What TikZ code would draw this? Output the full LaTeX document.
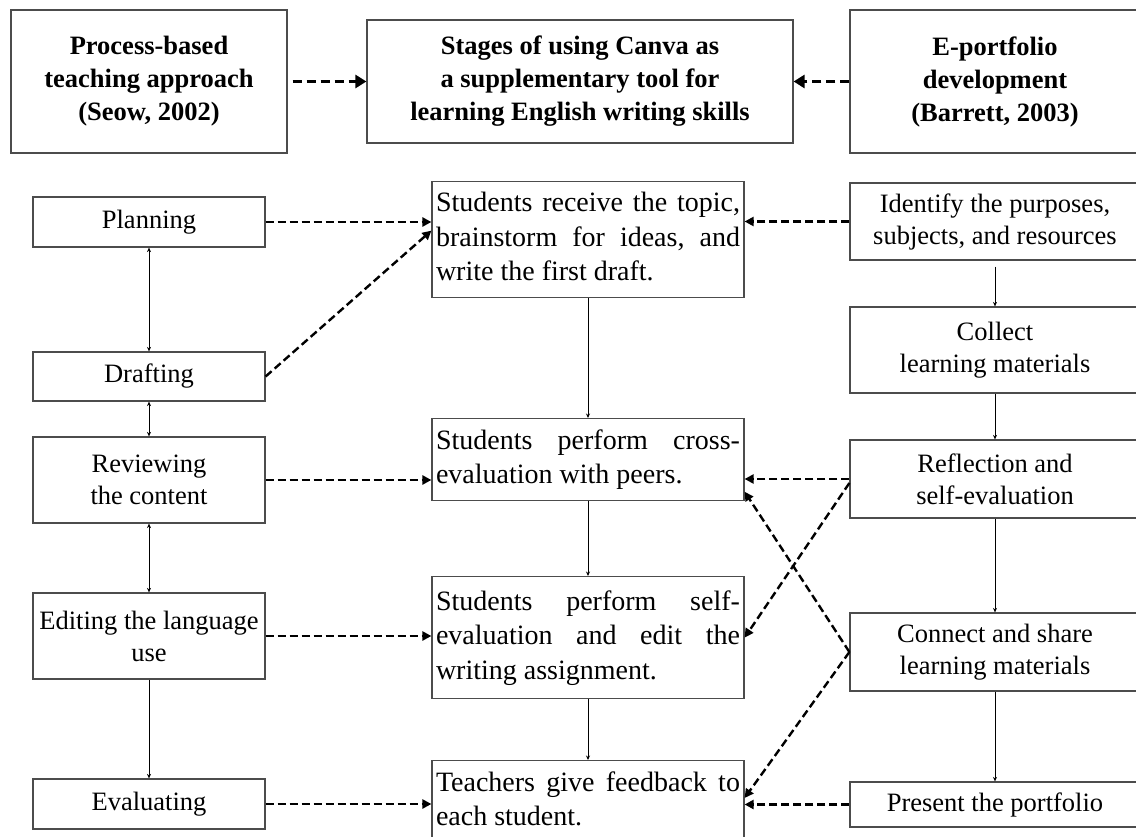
\documentclass[tikz,border=0pt]{standalone}
\usepackage{fontspec}
\setmainfont{Liberation Serif}
\usetikzlibrary{arrows.meta}

\begin{document}
\begin{tikzpicture}[x=1pt,y=-1pt,
	box/.style={draw=black!70, line width=1.2pt, inner sep=4pt, align=center, font=\fontsize{26.5}{32}\selectfont},
	head/.style={box, font=\bfseries\fontsize{26.5}{33}\selectfont},
	side/.style={box, minimum width=232pt},
	port/.style={box, minimum width=290pt},
	stage/.style={box, anchor=north, text width=304pt, align=none, inner xsep=4pt, inner ysep=6.25pt, font=\fontsize{28}{34.5}\selectfont},
	flow/.style={-{Stealth[length=4.5pt,width=4pt]}, line width=1pt},
	both/.style={{Stealth[length=4.5pt,width=4pt]}-{Stealth[length=4.5pt,width=4pt]}, line width=1pt},
	link/.style={-{Triangle[length=9pt,width=9pt]}, line width=2.4pt, dash pattern=on 8pt off 4pt},
	bigLink/.style={-{Triangle[length=11pt,width=13pt]}, line width=3.8pt, dash pattern=on 9pt off 5pt}]
	\useasboundingbox (0,0) rectangle (1136,837);

	\node[head, minimum width=276pt, minimum height=143pt] (pbt) at (149,81.5) {Process-based\\teaching approach\\(Seow, 2002)};
	\node[head, minimum width=426pt, minimum height=123pt] (stages) at (580,81.5) {Stages of using Canva as\\a supplementary tool for\\learning English writing skills};
	\node[head, minimum width=290pt, minimum height=143pt] (eport) at (995,81.5) {E-portfolio\\development\\(Barrett, 2003)};

	\node[side, minimum height=50pt] (planning) at (149,222) {Planning};
	\node[side, minimum height=49pt] (drafting) at (149,376.5) {Drafting};
	\node[side, minimum height=86pt] (reviewing) at (149,480) {Reviewing\\the content};
	\node[side, minimum height=86pt] (editing) at (149,636) {Editing the language\\use};
	\node[side, minimum height=50pt] (evaluating) at (149,804) {Evaluating};

	\node[stage] (c1) at (588,181) {\strut Students \hfill receive \hfill the \hfill topic,\\brainstorm \hfill for \hfill ideas, \hfill and\\write the first draft.\strut};
	\node[stage] (c2) at (588,418) {\strut Students \hfill perform \hfill cross-\\evaluation with peers.\strut};
	\node[stage, minimum height=122pt] (c3) at (588,576) {\strut Students \hfill perform \hfill self-\\evaluation \hfill and \hfill edit \hfill the\\writing assignment.\strut};
	\node[stage] (c4) at (588,760) {\strut Teachers \hfill give \hfill feedback \hfill to\\each student.\strut};

	\node[port, minimum height=77pt] (identify) at (995,221.5) {Identify the purposes,\\subjects, and resources};
	\node[port, minimum height=86pt] (collect) at (995,350) {Collect\\learning materials};
	\node[port, minimum height=78pt] (reflection) at (995,479) {Reflection and\\self-evaluation};
	\node[port, minimum height=78pt] (connect) at (995,652) {Connect and share\\learning materials};
	\node[port, minimum height=45pt] (present) at (995,804.5) {Present the portfolio};

	\draw[bigLink, shorten <=5pt] (pbt.east) -- (stages.west);
	\draw[bigLink] (eport.west) -- (stages.east);

	\draw[both] (planning) -- (drafting);
	\draw[both] (drafting) -- (reviewing);
	\draw[both] (reviewing) -- (editing);
	\draw[flow] (editing) -- (evaluating);

	\draw[flow] (c1) -- (c2);
	\draw[flow] (c2) -- (c3);
	\draw[flow] (c3) -- (c4);

	\draw[flow, shorten <=6pt] (identify) -- (collect);
	\draw[flow] (collect) -- (reflection);
	\draw[flow] (reflection) -- (connect);
	\draw[flow] (connect) -- (present);

	\draw[link] (planning.east) -- (planning.east -| c1.west);
	\draw[link] (drafting.east) -- ([yshift=9pt]c1.west);
	\draw[link] (reviewing.east) -- (reviewing.east -| c2.west);
	\draw[link] (editing.east) -- (editing.east -| c3.west);
	\draw[link] (evaluating.east) -- (evaluating.east -| c4.west);

	\draw[link] (identify.west) -- (identify.west -| c1.east);
	\draw[link] (reflection.west) -- (reflection.west -| c2.east);
	\draw[link] ([yshift=-4pt]reflection.west) -- (c3.east);
	\draw[link] (connect.west) -- ([yshift=9pt]c2.south east);
	\draw[link] (connect.west) -- ([yshift=-38pt]c4.north east);
	\draw[link] (present.west) -- (present.west -| c4.east);
\end{tikzpicture}
\end{document}
